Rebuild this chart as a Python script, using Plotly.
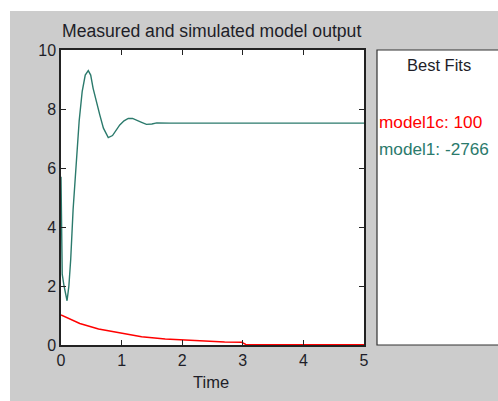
import plotly.graph_objects as go

# ---- data ----
t_model1 = [0, 0.01, 0.02, 0.05, 0.08, 0.1, 0.13, 0.16, 0.2, 0.26, 0.30, 0.35, 0.40, 0.45,
            0.49, 0.53, 0.58, 0.64, 0.70, 0.78, 0.85, 0.91, 0.97, 1.04, 1.11, 1.18, 1.25,
            1.33, 1.41, 1.5, 1.58, 1.8, 2.5, 3.5, 5.0]
y_model1 = [5.7, 4.6, 2.4, 2.0, 1.6, 1.5, 2.0, 2.9, 4.6, 6.3, 7.6, 8.6, 9.15, 9.3,
            9.15, 8.7, 8.25, 7.8, 7.35, 7.03, 7.1, 7.3, 7.46, 7.6, 7.68, 7.68, 7.63,
            7.55, 7.48, 7.49, 7.53, 7.52, 7.52, 7.52, 7.52]

t_model1c = [0, 0.1, 0.31, 0.62, 1.0, 1.33, 1.72, 2.0, 2.38, 2.7, 2.98, 3.05, 3.5, 4.0, 5.0]
y_model1c = [1.02, 0.92, 0.73, 0.54, 0.40, 0.28, 0.20, 0.17, 0.11, 0.10, 0.09, 0.02, 0.01, 0.01, 0.01]

x_ticks = [0, 1, 2, 3, 4, 5]
y_ticks = [0, 2, 4, 6, 8, 10]

fit_labels = ["model1c: 100", "model1: -2766"]
fit_colors = ["#ff0000", "#2b7a6c"]

W, H = 498, 401
def px(x):
    return x / W
def py(y):
    return (H - y) / H

FONT = "Liberation Sans, Arial, sans-serif"
TXT = "#1e1e28"

fig = go.Figure()
fig.add_trace(go.Scatter(x=t_model1c, y=y_model1c, mode="lines",
                         line=dict(color=fit_colors[0], width=1.5), showlegend=False))
fig.add_trace(go.Scatter(x=t_model1, y=y_model1, mode="lines",
                         line=dict(color=fit_colors[1], width=1.4), showlegend=False))

axis_common = dict(showgrid=False, zeroline=False, showline=True, linecolor="#222",
                   linewidth=1.5, mirror="ticks", ticks="inside", ticklen=5,
                   tickcolor="#222", tickwidth=1, automargin=False,
                   tickfont=dict(family=FONT, size=16, color=TXT))

fig.update_xaxes(range=[0, 5], tickvals=x_ticks, domain=[px(61), px(364)], **axis_common)
fig.update_yaxes(range=[0, 10], tickvals=y_ticks, domain=[py(345), py(50)], **axis_common)

shapes = [
    # white strips outside the gray figure area
    dict(type="rect", xref="paper", yref="paper", x0=0, x1=1, y0=py(11), y1=1.01,
         fillcolor="white", line=dict(width=0), layer="below"),
    dict(type="rect", xref="paper", yref="paper", x0=-0.01, x1=px(10), y0=-0.01, y1=1.01,
         fillcolor="white", line=dict(width=0), layer="below"),
    # Best fits panel
    dict(type="rect", xref="paper", yref="paper", x0=px(377), x1=px(530), y0=py(345), y1=py(50),
         fillcolor="white", line=dict(color="#333", width=1.2), layer="below"),
]

annotations = [
    dict(text="Measured and simulated model output", x=px(211), y=py(31), xref="paper",
         yref="paper", showarrow=False, xanchor="center", yanchor="middle",
         font=dict(family=FONT, size=17.6, color=TXT)),
    dict(text="Time", x=px(211), y=py(382), xref="paper", yref="paper", showarrow=False,
         xanchor="center", yanchor="middle", font=dict(family=FONT, size=16.5, color=TXT)),
    dict(text="Best Fits", x=px(439), y=py(65), xref="paper", yref="paper", showarrow=False,
         xanchor="center", yanchor="middle", font=dict(family=FONT, size=16.5, color=TXT)),
]
for i, (lab, col) in enumerate(zip(fit_labels, fit_colors)):
    annotations.append(dict(text=lab, x=px(377), y=py(122 + 26.5 * i), xref="paper",
                            yref="paper", showarrow=False, xanchor="left", yanchor="middle",
                            font=dict(family=FONT, size=17.2, color=col)))

fig.update_layout(width=W, height=H, autosize=False,
                  margin=dict(l=0, r=0, t=0, b=0, pad=0),
                  paper_bgcolor="#cccccc", plot_bgcolor="white",
                  shapes=shapes, annotations=annotations, showlegend=False)

fig.write_html("out.html")
